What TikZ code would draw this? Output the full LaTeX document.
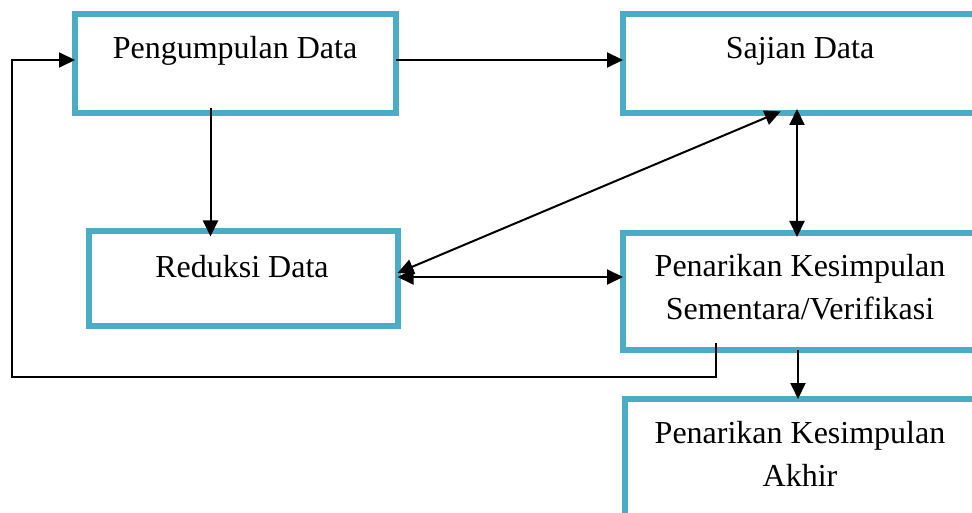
\documentclass[tikz,border=0pt]{standalone}
\usepackage{fontspec}
\setmainfont{Liberation Serif}
\usetikzlibrary{arrows.meta}
\definecolor{boxblue}{RGB}{75,172,198}
\begin{document}
\begin{tikzpicture}[x=1pt,y=-1pt,
  box/.style={draw=boxblue, line width=6pt, inner sep=0pt, outer sep=0pt},
  lbl/.style={font=\fontsize{32pt}{43pt}\selectfont, align=center, inner sep=0pt, text=black},
  arr/.style={line width=2pt, -{Triangle[length=16pt,width=15pt]}},
  dbl/.style={line width=2pt, {Triangle[length=16pt,width=15pt]}-{Triangle[length=16pt,width=15pt]}}]
\useasboundingbox (0,0) rectangle (972,513);
\clip (0,0) rectangle (972,513);

% boxes
\node[box, minimum width=321pt, minimum height=99pt]  (P) at (235.5,63.5) {};
\node[box, minimum width=354pt, minimum height=99pt]  (S) at (800,63.5) {};
\node[box, minimum width=309pt, minimum height=94.5pt] (R) at (243,278.75) {};
\node[box, minimum width=354pt, minimum height=117pt] (V) at (800,291.5) {};
\node[box, minimum width=350pt, minimum height=131pt] (A) at (800,464.5) {};

% labels (base anchor = baseline of the last line)
\node[lbl, anchor=base] (tP) at (235,59) {Pengumpulan Data};
\node[lbl, anchor=base] (tS) at (800,59) {Sajian Data};
\node[lbl, anchor=base] (tR) at (242,277) {Reduksi Data};
\node[lbl, anchor=base] (tV) at (800,319) {Penarikan Kesimpulan\\Sementara/Verifikasi};
\node[lbl, anchor=base] (tA) at (800,486) {Penarikan Kesimpulan\\Akhir};

% connectors
\coordinate (fbL) at (12,377);
\draw[arr] ([yshift=3.5pt]P.east) -- ([yshift=3.5pt]S.west);
\draw[arr, shorten <=-5pt, shorten >=-5pt] ([xshift=-25pt]P.south) -- ([xshift=-25pt]P.south |- R.north);
\draw[arr, shorten <=-7pt] ([xshift=-84pt]V.south) |- (fbL) |- ([yshift=3.5pt]P.west);
\draw[dbl, shorten <=-4pt] ([xshift=-23pt]S.south) -- ([yshift=5.75pt]R.east);
\draw[dbl] ([yshift=1.75pt]R.east) -- ([yshift=14.5pt]V.west);
\draw[dbl, shorten <=-4pt, shorten >=-4pt] ([xshift=-3pt]S.south) -- ([xshift=-3pt]V.north);
\draw[arr] ([xshift=-2pt]V.south) -- ([xshift=-2pt]A.north);
\end{tikzpicture}
\end{document}
